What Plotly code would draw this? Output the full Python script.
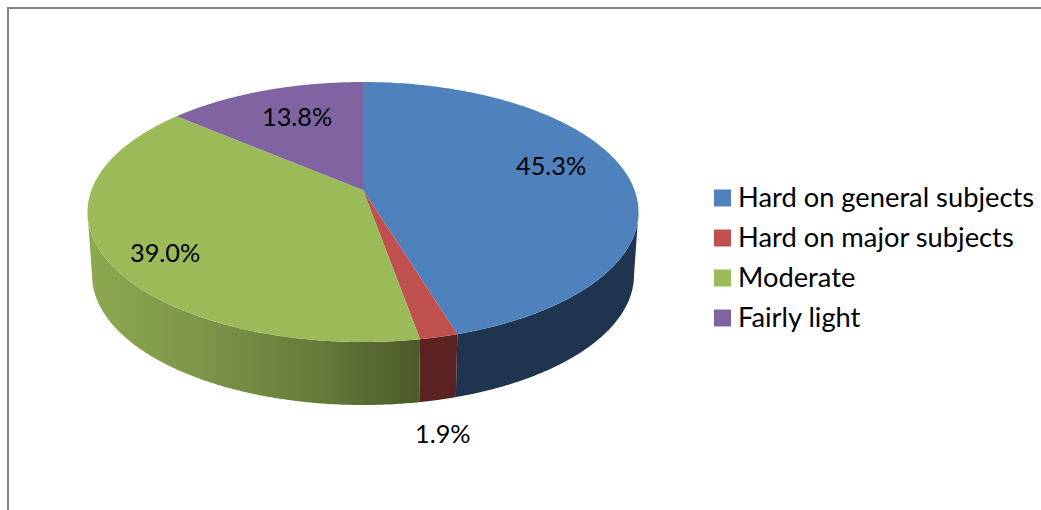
import numpy as np
import plotly.graph_objects as go

categories = ["Hard on general subjects", "Hard on major subjects", "Moderate", "Fairly light"]
shares = [45.3, 1.9, 39.0, 13.8]
share_labels = ["45.3%", "1.9%", "39.0%", "13.8%"]

top_colors = ["#4F81BD", "#C0504D", "#9BBB59", "#8064A2"]
wall_colors = ["#1F344F", "#5A2321", "#4B5A28", "#3F3151"]

# Centre of each percent label, in picture pixels
label_x = [551, 443, 164.5, 297]
label_y = [165, 433, 252, 116]

# Pie geometry in picture pixels (tilted disc seen in perspective)
CX, CY = 363, 212
RX, RY = 275.5, 130
APEX_SHIFT = -0.17
DEPTH = 63
BOTTOM_RX = 271

# Legend layout in picture pixels
LEGEND_X = 722.5
LEGEND_TEXT_X = 736
LEGEND_TOP = 198
LEGEND_ROW = 40
LEGEND_TEXT_LIFT = 1.5


def project(theta, radius=1.0, rx=RX, dy=0):
    """Map a clockwise angle from 12 o'clock onto the tilted disc."""
    u = radius * np.sin(theta)
    v = -radius * np.cos(theta)
    den = 1 + APEX_SHIFT * v
    x = CX + rx * u * np.sqrt(1 - APEX_SHIFT ** 2) / den
    y = CY + dy + RY * (v + APEX_SHIFT) / den
    return x, y


fig = go.Figure()

edges = np.cumsum([0] + shares) / sum(shares) * 2 * np.pi

# Only the front of the rim has a wall, from the rightmost to the leftmost point
circle = np.linspace(0, 2 * np.pi, 3601)
circle_x = project(circle)[0]
front_start = circle[np.argmax(circle_x)]
front_end = circle[np.argmin(circle_x)]

for i, name in enumerate(categories):
    start = max(edges[i], front_start)
    end = min(edges[i + 1], front_end)
    if start >= end:
        continue
    theta = np.linspace(start, end, 200)
    top_x, top_y = project(theta)
    low_x, low_y = project(theta, rx=BOTTOM_RX, dy=DEPTH)
    wall = dict(
        x=np.r_[top_x, low_x[::-1]],
        y=np.r_[top_y, low_y[::-1]],
        mode="none",
        fill="toself",
        showlegend=False,
        hoverinfo="skip",
    )
    if name == "Moderate":
        wall["fillgradient"] = dict(
            type="horizontal",
            colorscale=[[0, "#8CA950"], [0.35, "#7C9548"], [0.7, "#667A3A"], [1, "#4B5A28"]],
        )
    else:
        wall["fillcolor"] = wall_colors[i]
    fig.add_trace(go.Scatter(**wall))

# Top faces
for i, name in enumerate(categories):
    theta = np.linspace(edges[i], edges[i + 1], 200)
    rim_x, rim_y = project(theta)
    apex_x, apex_y = project(0.0, radius=0.0)
    fig.add_trace(go.Scatter(
        x=np.r_[apex_x, rim_x, apex_x],
        y=np.r_[apex_y, rim_y, apex_y],
        mode="none",
        fill="toself",
        fillcolor=top_colors[i],
        showlegend=False,
        text=f"{name}: {share_labels[i]}",
        hoverinfo="text",
    ))

# Legend, built by hand because the native one cannot hold the 40px rows
for i, name in enumerate(categories):
    row_y = LEGEND_TOP + i * LEGEND_ROW
    fig.add_trace(go.Scatter(
        x=[LEGEND_X],
        y=[row_y],
        mode="markers",
        marker=dict(symbol="square", size=17, color=top_colors[i]),
        showlegend=False,
        hoverinfo="skip",
    ))
    fig.add_annotation(x=LEGEND_TEXT_X, y=row_y - LEGEND_TEXT_LIFT, text=name, showarrow=False, xanchor="left",
                       font=dict(family="Lato", size=27.3, color="#000000"))

for i, text in enumerate(share_labels):
    fig.add_annotation(x=label_x[i], y=label_y[i], text=text, showarrow=False,
                       font=dict(family="Lato", size=25.3, color="#000000"))

# Chart frame
fig.add_shape(type="rect", x0=8, y0=8, x1=1060, y1=530,
              line=dict(color="#868686", width=2), fillcolor="rgba(0,0,0,0)")

fig.update_layout(
    width=1041,
    height=510,
    margin=dict(l=0, r=0, t=0, b=0),
    paper_bgcolor="white",
    plot_bgcolor="white",
    showlegend=False,
    xaxis=dict(range=[0, 1041], visible=False, fixedrange=True),
    yaxis=dict(range=[510, 0], visible=False, fixedrange=True),
)

fig.write_html("out.html", config=dict(displayModeBar=False),
               post_script="document.body.style.margin = '0';")
